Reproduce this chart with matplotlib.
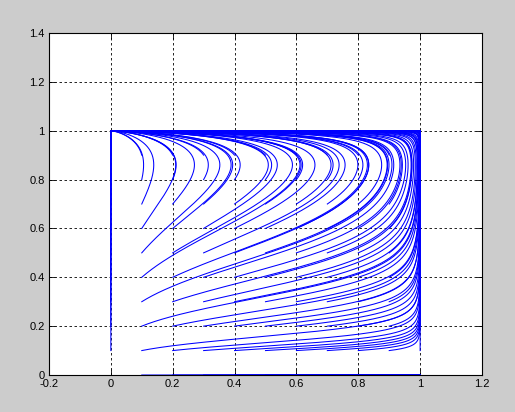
import numpy as np
import matplotlib.pyplot as plt

# start points of the trajectories (a 0.1 grid on the unit square)
x_starts = [0, 0.1, 0.2, 0.3, 0.4, 0.5, 0.6, 0.7, 0.8, 0.9, 1.0]
y_starts = [0, 0.1, 0.2, 0.3, 0.4, 0.5, 0.6, 0.7, 0.8, 0.9, 1.0]

# replicator-type system, parameters estimated from the curve shapes
y_switch = 0.86   # x grows below this y, shrinks above it
y_rate0 = 0.20    # growth rate of y at x = 0
y_rate1 = 0.11    # growth rate of y at x = 1
t_end = 250
dt = 0.05

xticks = [-0.2, 0, 0.2, 0.4, 0.6, 0.8, 1, 1.2]
xlabels = ["-0.2", "0", "0.2", "0.4", "0.6", "0.8", "1", "1.2"]
yticks = [0, 0.2, 0.4, 0.6, 0.8, 1, 1.2, 1.4]
ylabels = ["0", "0.2", "0.4", "0.6", "0.8", "1", "1.2", "1.4"]


def field(x, y):
    dx = x * (1 - x) * (y_switch - y)
    dy = (y_rate0 + (y_rate1 - y_rate0) * x) * y * (1 - y)
    return dx, dy


X0, Y0 = np.meshgrid(x_starts, y_starts)
x = X0.ravel().astype(float)
y = Y0.ravel().astype(float)
xs = [x.copy()]
ys = [y.copy()]
for i in range(int(t_end / dt)):
    k1x, k1y = field(x, y)
    k2x, k2y = field(x + dt/2*k1x, y + dt/2*k1y)
    k3x, k3y = field(x + dt/2*k2x, y + dt/2*k2y)
    k4x, k4y = field(x + dt*k3x, y + dt*k3y)
    x = x + dt/6*(k1x + 2*k2x + 2*k3x + k4x)
    y = y + dt/6*(k1y + 2*k2y + 2*k3y + k4y)
    xs.append(x.copy())
    ys.append(y.copy())
xs = np.array(xs)
ys = np.array(ys)

plt.rcParams['font.family'] = ['Liberation Sans', 'DejaVu Sans']
fig = plt.figure(figsize=(5.15, 4.12), dpi=100, facecolor='#cccccc')
ax = fig.add_axes([0.0951, 0.0898, 0.8408, 0.8301])

for j in range(xs.shape[1]):
    ax.plot(xs[:, j], ys[:, j], color='#0000ff', linewidth=0.75)

ax.set_xlim(-0.2, 1.2)
ax.set_ylim(0, 1.4)
ax.set_xticks(xticks)
ax.set_xticklabels(xlabels)
ax.set_yticks(yticks)
ax.set_yticklabels(ylabels)
ax.grid(True, color='black', linestyle=(0, (3, 3)), linewidth=0.6)
ax.tick_params(direction='in', length=4, width=0.6, labelsize=8, colors='black',
               top=True, right=True, pad=3)
for s in ax.spines.values():
    s.set_linewidth(0.8)

plt.savefig("out.png", dpi=100, facecolor=fig.get_facecolor())
